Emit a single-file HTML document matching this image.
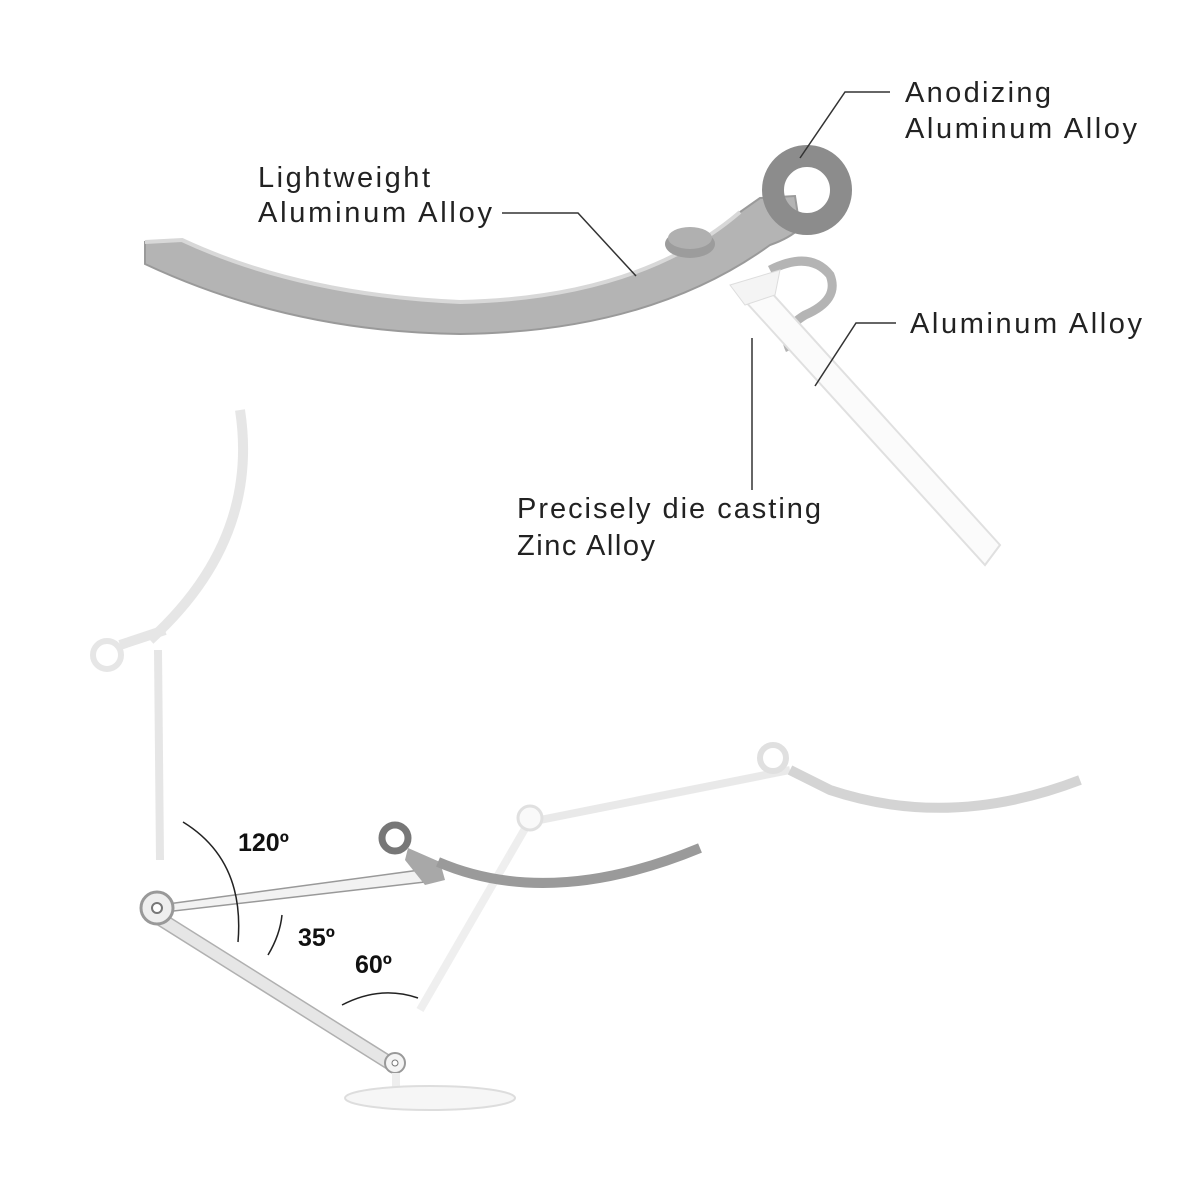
<!DOCTYPE html>
<html><head><style>
html,body{margin:0;padding:0;background:#fff;width:1200px;height:1200px;overflow:hidden}
svg{display:block}
.t{font-family:"Liberation Sans",sans-serif;font-size:29px;fill:#222}
.b{font-family:"Liberation Sans",sans-serif;font-size:25px;font-weight:bold;fill:#111}
</style></head><body>
<svg width="1200" height="1200" viewBox="0 0 1200 1200">
<path d="M145,242 L182,240 Q300,295 460,302 Q640,298 740,212 L760,198 L795,196 L800,228 Q790,238 770,245 Q650,332 460,334 Q290,332 145,264 Z" fill="#b4b4b4" stroke="#9a9a9a" stroke-width="2"/>
<path d="M145,242 L182,240 Q300,295 460,302 Q640,298 740,212" fill="none" stroke="#d8d8d8" stroke-width="4"/>
<ellipse cx="690" cy="244" rx="25" ry="14" fill="#9c9c9c"/>
<ellipse cx="690" cy="238" rx="22" ry="11" fill="#b0b0b0"/>
<circle cx="807" cy="190" r="34" fill="none" stroke="#8c8c8c" stroke-width="22"/>
<path d="M770,270 Q810,250 830,275 Q840,300 805,315 Q780,330 790,350" fill="none" stroke="#b4b4b4" stroke-width="9"/>
<path d="M735,290 L760,280 L1000,545 L985,565 Z" fill="#fbfbfb" stroke="#e0e0e0" stroke-width="2"/>
<path d="M730,285 L780,270 L775,295 L745,305 Z" fill="#f4f4f4" stroke="#ddd"/>
<g stroke="#333" stroke-width="1.5" fill="none">
<polyline points="502,213 578,213 636,276"/>
<polyline points="890,92 845,92 800,158"/>
<polyline points="896,323 856,323 815,386"/>
<line x1="752" y1="338" x2="752" y2="490"/>
</g>
<text class="t" x="258" y="187" textLength="172">Lightweight</text>
<text class="t" x="258" y="222" textLength="234">Aluminum Alloy</text>
<text class="t" x="905" y="102" textLength="146">Anodizing</text>
<text class="t" x="905" y="138" textLength="232">Aluminum Alloy</text>
<text class="t" x="910" y="333" textLength="232">Aluminum Alloy</text>
<text class="t" x="517" y="518" textLength="304">Precisely die casting</text>
<text class="t" x="517" y="555" textLength="138">Zinc Alloy</text>
<g opacity="0.45" fill="none" stroke="#c8c8c8">
<path d="M240,410 Q260,540 150,640" stroke-width="10"/>
<circle cx="107" cy="655" r="14" stroke-width="6"/>
<path d="M120,645 L165,630" stroke-width="10"/>
<path d="M158,650 L160,860" stroke-width="8"/>
</g>
<g opacity="0.6" fill="none">
<path d="M530,820 L420,1010" stroke="#e4e4e4" stroke-width="8"/>
<path d="M540,820 L790,770" stroke="#dcdcdc" stroke-width="8"/>
<circle cx="530" cy="818" r="12" fill="#f6f6f6" stroke="#ccc" stroke-width="3"/>
<circle cx="773" cy="758" r="13" stroke="#ccc" stroke-width="6"/>
<path d="M790,770 L830,790 Q950,830 1080,780" stroke="#b8b8b8" stroke-width="10"/>
</g>
<path d="M160,905 L420,870 L425,882 L165,912 Z" fill="#f2f2f2" stroke="#999" stroke-width="1.5"/>
<path d="M158,910 L400,1062 L392,1072 L150,920 Z" fill="#e6e6e6" stroke="#b0b0b0" stroke-width="1.5"/>
<circle cx="157" cy="908" r="16" fill="#eee" stroke="#999" stroke-width="3"/>
<circle cx="157" cy="908" r="5" fill="#fff" stroke="#777" stroke-width="2"/>
<circle cx="395" cy="1063" r="10" fill="#f4f4f4" stroke="#999" stroke-width="2"/>
<circle cx="395" cy="1063" r="3" fill="#fff" stroke="#777"/>
<rect x="392" y="1073" width="8" height="22" fill="#eee"/>
<ellipse cx="430" cy="1098" rx="85" ry="12" fill="#f6f6f6" stroke="#ddd" stroke-width="2"/>
<circle cx="395" cy="838" r="13" fill="none" stroke="#777" stroke-width="7"/>
<path d="M408,848 L440,862 L445,880 L425,885 L405,860 Z" fill="#a8a8a8"/>
<path d="M438,862 Q550,910 700,848" fill="none" stroke="#9a9a9a" stroke-width="10"/>
<g stroke="#222" stroke-width="1.5" fill="none">
<path d="M183,822 Q245,860 238,942"/>
<path d="M282,915 Q280,935 268,955"/>
<path d="M342,1005 Q380,985 418,998"/>
</g>
<text class="b" x="238" y="851">120º</text>
<text class="b" x="298" y="946">35º</text>
<text class="b" x="355" y="973">60º</text>
</svg>
</body></html>
